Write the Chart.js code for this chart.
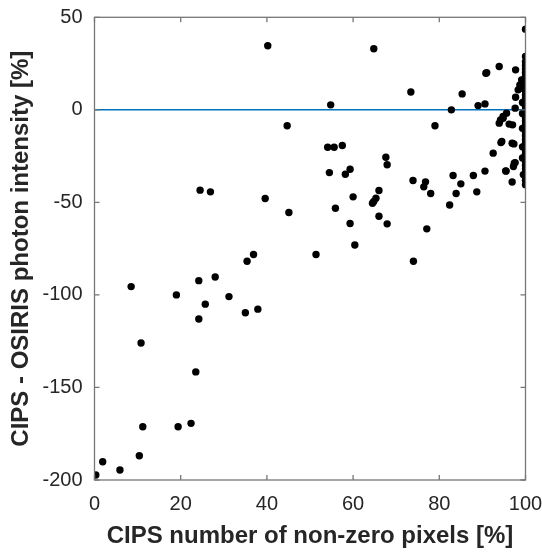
<!DOCTYPE html>
<html>
<head>
<meta charset="utf-8">
<script src="https://cdn.jsdelivr.net/npm/chart.js@4/dist/chart.umd.min.js"></script>
<style>
html,body{margin:0;padding:0;background:#fff;}
#wrap{width:542px;height:552px;position:relative;}
</style>
</head>
<body>
<div id="wrap"><canvas id="c" width="542" height="552"></canvas></div>
<script>
// Scatter data
const xVals = [
  0.3, 1.9, 5.9, 10.4, 11.2, 19.4, 22.4, 23.5, 10.8, 8.5, 19, 24.2, 28, 25.7, 24.2, 31.2, 35, 37.9, 36.9, 35.4, 51.4, 60.4, 74,
  40.2, 44.7, 24.5, 26.9, 39.6, 45.1,
  64.8, 54.8, 73.4, 85.3, 91, 93.9, 97.7, 89, 90.6, 82.8, 79, 98.7, 97.7, 97.6, 95.6, 94.8, 93.9, 96.2, 97,
  94.3, 96.9, 97.3, 92.5, 97.4, 95.5, 96.9, 90.6, 87.9, 88.7, 83.2, 85, 83.9, 82.4, 73.9, 76.8, 76.4, 78, 77.1,
  54.1, 55.6, 57.5, 54.5, 58.2, 59.3, 67.6, 67.9, 60, 55.9, 66, 65.3, 64.8, 64.5, 59.3, 66, 67.9,
  94.2, 94.8, 94.5, 97.6, 97.2, 95.4, 90.8, 98.7, 98.3, 99.1,
  99.3, 99.3, 99.3, 99.3, 99.3, 99.3, 99.5,
  100, 100, 100, 100, 100, 100, 100, 100, 100, 100, 100, 100, 100, 100, 100, 100, 100, 100,
  100, 100, 100, 100, 100, 100, 100, 100, 100, 100, 100, 100, 100, 100, 100, 100, 100, 100
];
const yVals = [
  -197.3, -190.1, -194.6, -186.9, -171.2, -171.2, -169.4, -141.6, -126, -95.5, -100, -92.3, -90.3, -105, -113, -100.9, -109.6, -107.7, -78.2, -81.8, -78.2, -73, -81.8,
  34.6, -8.6, -43.4, -44.3, -47.9, -55.5,
  33, 2.7, 9.6, 8.6, 20, 23.4, 21.6, 2.3, 3.2, 0, -8.6, 11.7, 6.8, 0.9, -1.8, -4.5, -7.2, -7.7, -8.1,
  -17.7, -18, -18.4, -23.4, -28.8, -33.1, -39, -33.1, -35.5, -44.3, -35.5, -40, -45.2, -51.4, -38.2, -38.9, -41.6, -45.2, -64.3,
  -20.2, -20.2, -19.3, -33.9, -34.8, -32.1, -25.6, -29.7, -47, -53.2, -43.6, -47.8, -49.5, -50.5, -61.4, -57.5, -61.6,
  -5.4, -3.6, -17.1, -28.5, -30.6, -33, 19.8, 13.5, 10.8, 16.2,
  16, 4, -2, -10, -20, -26, -35,
  43.6, 28.8, 26, 24, 22, 20, 18, 16, 14, 12, 10, 8, 6, 4, 2, 0, -2, -4,
  -6, -8, -10, -12, -14, -16, -18, -20, -22, -24, -26, -28, -30, -32, -34, -36, -38, -40.5
];
const refX = [0, 100];
const refY = [0, 0];
const xTicks = [0, 20, 40, 60, 80, 100];
const yTicks = [-200, -150, -100, -50, 0, 50];

const pts = xVals.map((x, i) => ({x: x, y: yVals[i]}));
const refPts = refX.map((x, i) => ({x: x, y: refY[i]}));

const boxPlugin = {
  id: 'box',
  afterDraw(chart) {
    const ctx = chart.ctx;
    const a = chart.chartArea;
    const xs = chart.scales.x, ys = chart.scales.y;
    ctx.save();
    ctx.strokeStyle = '#777777';
    ctx.lineWidth = 1.3;
    ctx.strokeRect(a.left, a.top, a.right - a.left, a.bottom - a.top);
    const L = 5;
    ctx.beginPath();
    xTicks.forEach(v => {
      const p = xs.getPixelForValue(v);
      ctx.moveTo(p, a.bottom); ctx.lineTo(p, a.bottom - L);
      ctx.moveTo(p, a.top); ctx.lineTo(p, a.top + L);
    });
    yTicks.forEach(v => {
      const p = ys.getPixelForValue(v);
      ctx.moveTo(a.left, p); ctx.lineTo(a.left + L, p);
      ctx.moveTo(a.right, p); ctx.lineTo(a.right - L, p);
    });
    ctx.stroke();
    ctx.restore();
  }
};

new Chart(document.getElementById('c'), {
  type: 'scatter',
  data: {
    datasets: [
      {
        type: 'line',
        data: refPts,
        borderColor: '#0072BD',
        borderWidth: 1.5,
        pointRadius: 0,
        fill: false,
        order: 2
      },
      {
        data: pts,
        backgroundColor: '#000',
        borderColor: '#000',
        pointRadius: 3.7,
        pointBorderWidth: 0,
        order: 1
      }
    ]
  },
  options: {
    responsive: false,
    animation: false,
    devicePixelRatio: 1,
    layout: {padding: {left: 0, right: 0, top: 17.3, bottom: 1.5}},
    plugins: {legend: {display: false}, tooltip: {enabled: false}},
    scales: {
      x: {
        type: 'linear', min: 0, max: 100,
        afterBuildTicks(s) { s.ticks = xTicks.map(v => ({value: v})); },
        afterFit(s) { s.height = 70.5; s.paddingRight = 16.5; s.paddingLeft = 0; },
        grid: {display: false, drawTicks: false},
        border: {display: false},
        ticks: {color: '#262626', font: {family: 'Liberation Sans, Arial', size: 20}, padding: 12.5, maxRotation: 0},
        title: {display: true, text: 'CIPS number of non-zero pixels [%]', color: '#262626',
          font: {family: 'Liberation Sans, Arial', size: 24, weight: 'bold'}, padding: {top: 0, bottom: 0}}
      },
      y: {
        type: 'linear', min: -200, max: 50,
        afterBuildTicks(s) { s.ticks = yTicks.map(v => ({value: v})); },
        afterFit(s) { s.width = 94.5; s.paddingTop = 0; s.paddingBottom = 0; },
        grid: {display: false, drawTicks: false},
        border: {display: false},
        ticks: {color: '#262626', font: {family: 'Liberation Sans, Arial', size: 20}, padding: 12},
        title: {display: true, text: 'CIPS - OSIRIS photon intensity [%]', color: '#262626',
          font: {family: 'Liberation Sans, Arial', size: 24, weight: 'bold'}, padding: {top: 7, bottom: 0}}
      }
    }
  },
  plugins: [boxPlugin]
});
</script>
</body>
</html>
